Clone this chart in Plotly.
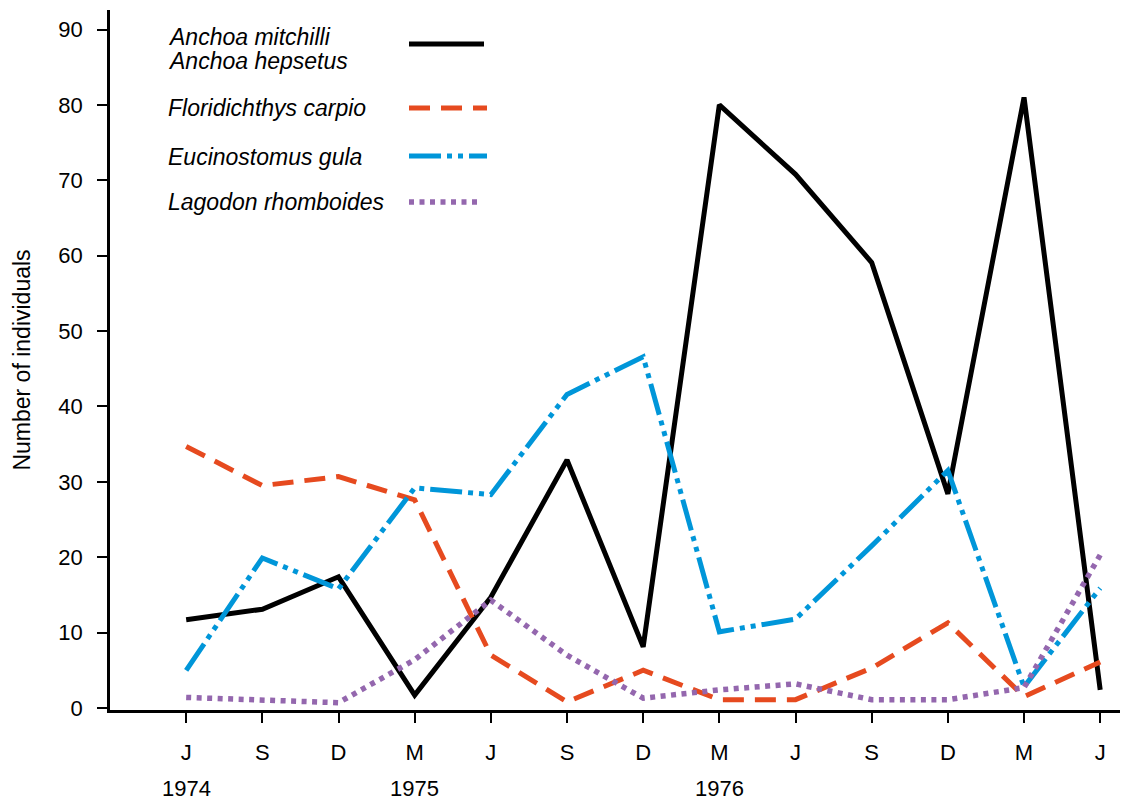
import plotly.graph_objects as go

# Sampling dates (quarterly, June 1974 to June 1977)
months = ["J", "S", "D", "M", "J", "S", "D", "M", "J", "S", "D", "M", "J"]
positions = list(range(len(months)))

years = ["1974", "1975", "1976"]
year_positions = [0, 3, 7]

# Number of individuals per species
anchoa = [11.7, 13.1, 17.4, 1.7, 14.7, 32.9, 8.1, 80.0, 70.8, 59.1, 28.4, 81.0, 2.4]
floridichthys = [34.7, 29.5, 30.7, 27.6, 7.0, 0.8, 5.0, 1.1, 1.1, 5.3, 11.3, 1.5, 6.1]
eucinostomus = [5.0, 19.9, 15.8, 29.2, 28.3, 41.6, 46.6, 10.1, 11.8, 21.5, 31.5, 2.8, 15.9]
lagodon = [1.4, 1.1, 0.7, 6.4, 14.3, 7.0, 1.3, 2.4, 3.2, 1.1, 1.1, 2.7, 20.3]

species = [
    (["Anchoa mitchilli", "Anchoa hepsetus"], anchoa, "#000000", "solid", 5),
    (["Floridichthys carpio"], floridichthys, "#E64A1F", "21px,11px", 5),
    (["Eucinostomus gula"], eucinostomus, "#0096D9", "32px,6px,5px,6px,5px,6px", 5),
    (["Lagodon rhomboides"], lagodon, "#9467AE", "5px,5.5px", 5.5),
]

FONT = "Liberation Sans, Arial, sans-serif"

fig = go.Figure()
for names, values, color, dash, width in species:
    fig.add_trace(go.Scatter(
        x=positions, y=values, mode="lines", name=" / ".join(names),
        line=dict(color=color, dash=dash, width=width),
        showlegend=False,
    ))

# Plot-area geometry (pixels) used to place the hand-built key
L, R, T, B = 110, 26, 10, 93
W, H = 1146, 803
pw, ph = W - L - R, H - T - B


def px(x):
    return (x - L) / pw


def py(y):
    return (H - B - y) / ph


# Key: italic species names with line samples to their right
key_rows = [
    ([37, 61], 44, 409, 484),
    ([108], 108, 409, 487),
    ([157], 156, 409, 487),
    ([202], 202, 409, 480),
]
for (names, values, color, dash, width), (tys, ly, x0, x1) in zip(species, key_rows):
    for name, ty in zip(names, tys):
        fig.add_annotation(
            x=px(166), y=py(ty), xref="paper", yref="paper",
            text=f"<i>{name}</i>", showarrow=False, xanchor="left", yanchor="middle",
            align="left", font=dict(family=FONT, size=23, color="#000000"),
        )
    fig.add_shape(
        type="line", xref="paper", yref="paper",
        x0=px(x0), x1=px(x1), y0=py(ly), y1=py(ly),
        line=dict(color=color, dash=dash, width=width),
    )

# Year labels under the month ticks
for yr, pos in zip(years, year_positions):
    fig.add_annotation(
        x=pos, y=py(788), xref="x", yref="paper", text=yr, showarrow=False,
        xanchor="center", yanchor="middle",
        font=dict(family=FONT, size=22, color="#000000"),
    )

fig.update_layout(
    width=W, height=H,
    margin=dict(l=L, r=R, t=T, b=B, pad=0),
    paper_bgcolor="white", plot_bgcolor="white",
    font=dict(family=FONT, size=22, color="#000000"),
)
fig.update_xaxes(
    range=[-1.0, 12.26], tickmode="array", tickvals=positions, ticktext=months,
    showgrid=False, zeroline=False, showline=True, linecolor="#000000", linewidth=2.5,
    ticks="outside", ticklen=10, tickwidth=1.5, tickcolor="#000000",
    ticklabelstandoff=11, tickfont=dict(family=FONT, size=22),
)
fig.update_yaxes(
    range=[-0.27, 92.6], tickmode="array", tickvals=list(range(0, 91, 10)),
    showgrid=False, zeroline=False, showline=True, linecolor="#000000", linewidth=2.5,
    ticks="outside", ticklen=10, tickwidth=1.5, tickcolor="#000000",
    ticklabelstandoff=10, tickfont=dict(family=FONT, size=22),
    title=dict(text="Number of individuals", font=dict(family=FONT, size=23), standoff=22),
)

fig.write_html("out.html")
